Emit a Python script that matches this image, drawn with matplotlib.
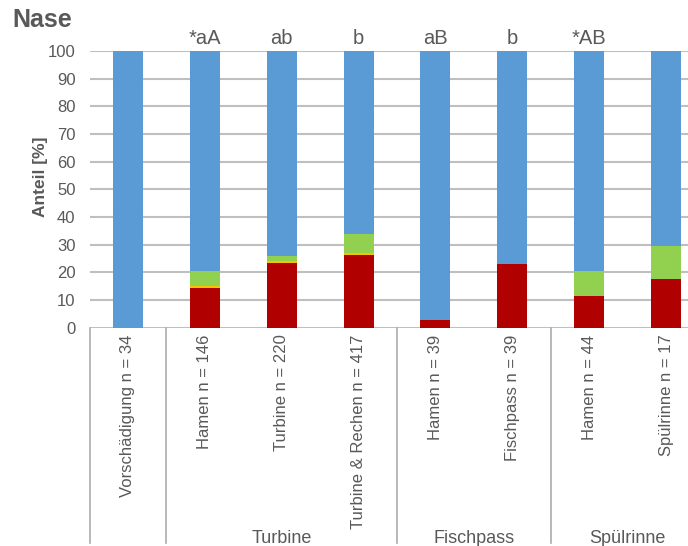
import matplotlib
matplotlib.use('Agg')

import matplotlib.pyplot as plt
import numpy as np

plt.rcParams['font.family'] = ['Liberation Sans', 'DejaVu Sans']

# Anteile je Schadensklasse in %, Reihenfolge wie auf der x-Achse
labels = [u'Vorschädigung n = 34', u'Hamen n = 146', u'Turbine n = 220',
          u'Turbine & Rechen n = 417', u'Hamen n = 39', u'Fischpass n = 39',
          u'Hamen n = 44', u'Spülrinne n = 17']
schwer = [0.0, 14.4, 23.4, 26.1, 2.6, 23.1, 11.4, 17.6]
mittel = [0.0, 0.6, 0.6, 0.8, 0.0, 0.0, 0.0, 0.0]
leicht = [0.0, 5.4, 1.8, 6.8, 0.0, 0.0, 9.1, 11.8]
letters = ['', '*aA', 'ab', 'b', 'aB', 'b', '*AB', '']

groups = [(u'Turbine', 0.5, 3.5), (u'Fischpass', 3.5, 5.5), (u'Spülrinne', 5.5, 7.5)]

grey = '#595959'
c_blue = '#5B9BD5'
c_green = '#92D050'
c_yellow = '#FFC000'
c_red = '#B00000'

schwer = np.array(schwer)
mittel = np.array(mittel)
leicht = np.array(leicht)
ohne = 100 - schwer - mittel - leicht

fig = plt.figure(figsize=(6.88, 5.46), dpi=100)
ax = fig.add_axes([89.5 / 688, 1 - 327.5 / 546, 615.0 / 688, 276.5 / 546])

x = np.arange(len(labels))
w = 0.39
ax.bar(x, schwer, w, color=c_red, zorder=2)
ax.bar(x, mittel, w, bottom=schwer, color=c_yellow, zorder=2)
ax.bar(x, leicht, w, bottom=schwer + mittel, color=c_green, zorder=2)
ax.bar(x, ohne, w, bottom=schwer + mittel + leicht, color=c_blue, zorder=2)

ax.set_xlim(-0.5, 7.5)
ax.set_ylim(0, 100)
ax.set_yticks(range(0, 101, 10))
ax.yaxis.grid(True, color='#BFBFBF', linewidth=1.5, zorder=0)
ax.set_axisbelow(True)
for s in ax.spines.values():
    s.set_visible(False)

ax.set_xticks(x)
ax.set_xticklabels(labels, rotation=90, va='top', ha='center')
ax.tick_params(axis='x', length=0, pad=5, labelsize=12, labelcolor=grey)
ax.tick_params(axis='y', length=0, pad=10, labelsize=12, labelcolor=grey)

# Trennlinien und Gruppenbeschriftung unter der Achse
tr = ax.get_xaxis_transform()
for pos in [-0.5, 0.5, 3.5, 5.5, 7.5]:
    ax.plot([pos, pos], [0, -0.78], transform=tr, color='#ABABAB',
            linewidth=1.2, clip_on=False)
for name, a, b in groups:
    ax.text((a + b) / 2, -0.762, name, transform=tr, ha='center', va='center',
            fontsize=13, color=grey)

for xi, t in zip(x, letters):
    ax.text(xi, 1.047, t, transform=tr, ha='center', va='center',
            fontsize=14.5, color=grey)

fig.text(12 / 688, 1 - 20 / 546, 'Nase', fontsize=18, fontweight='bold',
         color=grey, ha='left', va='center')
fig.text(40 / 688, 1 - 177 / 546, 'Anteil [%]', fontsize=12.5, fontweight='bold',
         color=grey, rotation=90, ha='center', va='center')

fig.savefig('out.png', dpi=100)
